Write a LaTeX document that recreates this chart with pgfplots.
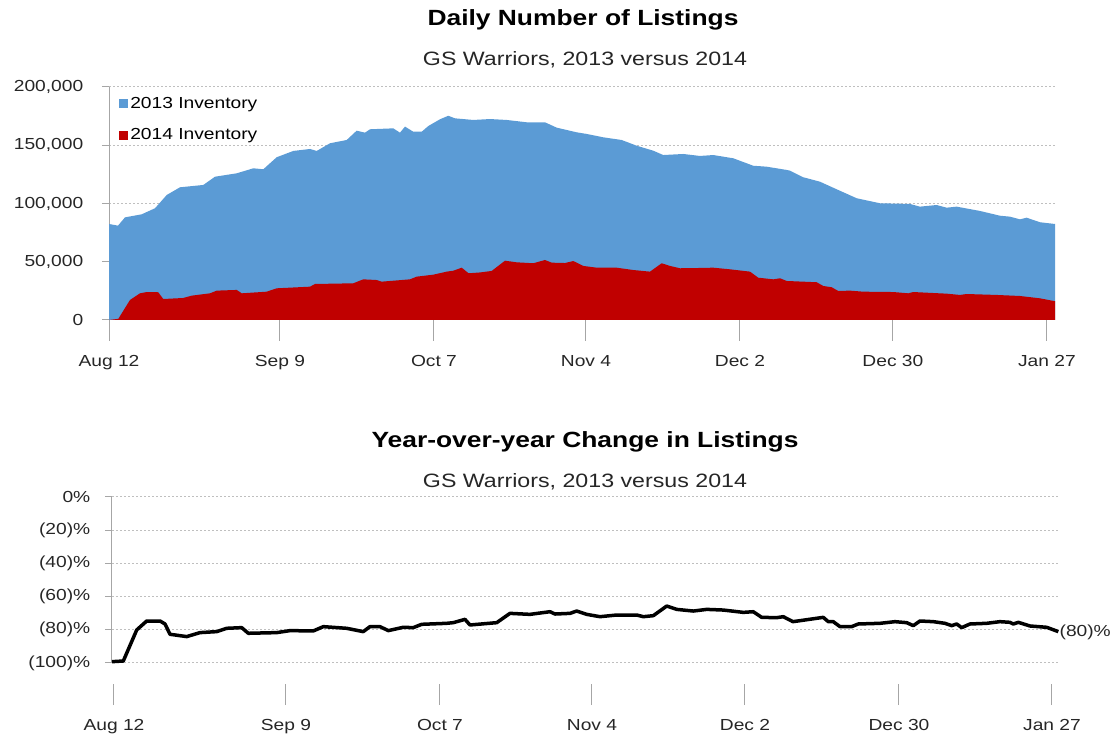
\documentclass[border=0pt]{standalone}
\usepackage{fontspec}
\setmainfont{Liberation Sans}[FakeStretch=1.2]
\usepackage{pgfplots}
\pgfplotsset{compat=1.18}
\newlength\px \setlength\px{0.75pt}
\definecolor{c13}{HTML}{5B9BD5}
\definecolor{c14}{HTML}{C00000}
\definecolor{gridc}{HTML}{BFBFBF}
\definecolor{axc}{HTML}{A6A6A6}
\definecolor{txt}{HTML}{262626}
\pgfplotsset{
  common/.style={
    scale only axis, width=946\px,
    xmin=0, xmax=172.57,
    axis lines*=left,
    x axis line style={draw=none},
    y axis line style={draw=axc, line width=1\px},
    tick align=outside,
    major tick length=21\px,
    minor tick length=7\px,
    xtick style={draw=axc, line width=1\px},
    ytick style={draw=none},
    minor y tick style={draw=axc, line width=1\px},
    ymajorgrids,
    grid style={gridc, line width=1\px, dash pattern=on 2\px off 2\px},
    tick label style={font=\fontsize{12}{14}\selectfont, text=txt},
    xticklabel style={yshift=-10\px},
    scaled y ticks=false,
    /pgf/number format/assume math mode=true,
    xticklabels={Aug 12,Sep 9,Oct 7,Nov 4,Dec 2,Dec 30,Jan 27},
  }
}
\begin{document}
\begin{tikzpicture}
\path[use as bounding box] (0,0) rectangle (1117\px,738\px);
\node[font=\fontsize{16.5}{18}\selectfont\bfseries] at (583\px,718\px) {Daily Number of Listings};
\node[font=\fontsize{14.5}{16}\selectfont, text=txt] at (585\px,678\px) {GS Warriors, 2013 versus 2014};
\begin{axis}[common,
  at={(109\px,418\px)}, anchor=south west, height=233\px,
  ymin=0, ymax=200000,
  xtick={0,31.19,59.28,87.01,115.1,143.0,171.1},
  ytick={0,50000,100000,150000,200000},
  minor ytick={0,50000,100000,150000,200000},
  yticklabels={0,{50,000},{100,000},{150,000},{200,000}},
  legend style={at={(0,1)}, anchor=north west, xshift=10\px, yshift=-8\px, draw=none, fill=none,
    font=\fontsize{12}{14}\selectfont, row sep=14\px, inner sep=0pt,
    nodes={inner sep=2\px}},
  legend cell align=left,
  legend image code/.code={\fill (0,-4.5\px) rectangle (9\px,4.5\px);},
]
\addplot[fill=c13, draw=none] coordinates {
(0,82400) (1.64,81000) (2.92,88100) (5.96,90700) (8.39,95900) (10.53,107300) (12.95,113900)
(17.2,115900) (19.34,123000) (23.29,125900) (26.32,130200) (28.15,129400) (30.59,139700)
(33.62,145100) (36.67,146800) (37.89,145100) (40.31,151700) (43.36,154500) (45.18,162500)
(46.7,160800) (47.61,163700) (51.86,164500) (53.08,160800) (54.0,166000) (55.51,161600)
(57.04,161600) (58.25,166500) (60.38,172300) (61.89,175300) (63.12,173100) (66.45,171700)
(69.5,172500) (72.55,171700) (76.19,169700) (79.53,169700) (81.67,165100) (85.31,161100)
(87.14,159700) (90.17,156800) (93.52,154500) (96.26,149600) (99.29,145300) (101.11,141600)
(104.76,142500) (107.81,140800) (110.23,141600) (113.88,138800) (117.53,132400) (119.97,131600)
(123.62,128800) (124.22,128200) (126.65,122500) (127.87,121000) (129.69,118700) (132.74,112200)
(136.39,104500) (140.64,100200) (146.11,99600) (147.93,97300) (150.98,98700) (152.8,96400)
(154.63,97300) (158.88,93600) (162.53,89500) (164.35,88700) (166.18,86400) (167.4,87800)
(169.83,83900) (172.57,82400)
} \closedcycle;
\addlegendentry{2013 Inventory}
\addplot[fill=c14, draw=none] coordinates {
(0,0) (1.7,1000) (3.83,17200) (5.65,22900) (6.88,24000) (8.99,23800) (9.9,18000) (13.55,18900)
(15.09,20900) (18.42,22900) (19.65,25200) (23.29,25800) (24.21,22900) (28.77,24300) (30.59,27200)
(36.67,28600) (37.58,30900) (44.56,31500) (46.39,34900) (48.83,34300) (49.74,32900) (54.91,34900)
(56.13,37200) (59.16,38900) (61.6,41500) (62.81,42300) (64.34,44900) (65.6,40100) (67.68,40800)
(69.81,42100) (72.24,50900) (74.37,49500) (77.4,48700) (79.53,51500) (80.76,49200) (83.18,48900)
(84.7,50600) (86.52,46400) (88.96,44900) (92.61,44900) (95.64,42900) (98.69,41500) (100.82,48700)
(102.34,46400) (104.16,44400) (107.21,44600) (110.23,44900) (113.28,43500) (116.93,41500)
(118.44,36300) (121.18,34900) (122.4,35800) (123.62,33500) (129.1,32400) (130.3,29200)
(131.83,28100) (133.04,24900) (135.17,25200) (137.6,24300) (143.07,24000) (145.8,22900)
(146.72,24000) (152.81,22600) (155.23,21500) (156.46,22300) (161.93,21500) (166.18,20600)
(169.83,18600) (172.57,16100)
} \closedcycle;
\addlegendentry{2014 Inventory}
\end{axis}

\node[font=\fontsize{16.5}{18}\selectfont\bfseries] at (585\px,296\px) {Year-over-year Change in Listings};
\node[font=\fontsize{14.5}{16}\selectfont, text=txt] at (585\px,256\px) {GS Warriors, 2013 versus 2014};
\begin{axis}[common,
  at={(112\px,75\px)}, anchor=south west, height=166\px,
  ymin=-100, ymax=0,
  axis x line shift=21\px,
  xtick={0.36,31.74,59.83,87.56,115.47,143.56,171.47},
  ytick={-100,-80,-60,-40,-20,0},
  minor ytick={-100,-80,-60,-40,-20,0},
  yticklabels={(100)\%,(80)\%,(60)\%,(40)\%,(20)\%,0\%},
  yticklabel style={xshift=4\px},
  clip=false,
]
\addplot[black, line width=3.5\px, line join=round] coordinates {
(0,-99.2) (2.06,-98.8) (4.51,-80.1) (6.33,-74.7) (8.76,-74.7) (9.67,-76.5) (10.58,-82.7)
(13.63,-84.1) (16.05,-81.7) (19.1,-81.1) (20.92,-79.1) (23.66,-78.7) (24.86,-82.1) (30.04,-81.7)
(32.47,-80.5) (36.72,-80.7) (38.54,-78.1) (42.81,-79.1) (45.84,-81.1) (47.06,-78.1) (48.89,-78.1)
(50.4,-80.5) (53.14,-78.5) (54.96,-78.7) (56.49,-76.7) (61.05,-76.1) (62.26,-75.7) (64.39,-73.7)
(65.3,-77.1) (70.18,-75.7) (72.6,-70.1) (76.25,-70.7) (79.9,-69.1) (80.81,-70.5) (83.55,-70.1)
(84.77,-68.7) (86.59,-70.7) (89.02,-72.1) (92.06,-71.1) (95.71,-71.1) (96.92,-72.1) (98.74,-71.5)
(101.19,-65.7) (103.01,-67.7) (106.04,-68.7) (108.48,-67.7) (111.51,-68.1) (115.16,-69.5)
(116.98,-69.1) (118.51,-72.5) (121.25,-72.7) (122.45,-72.1) (124.22,-75.1) (129.75,-72.5)
(130.66,-75.1) (131.57,-75.1) (132.8,-78.1) (134.93,-78.1) (136.14,-76.5) (140.09,-76.1)
(142.83,-75.1) (144.96,-75.7) (146.17,-77.5) (147.39,-74.7) (149.82,-75.1) (151.95,-76.1)
(153.18,-77.5) (154.09,-76.5) (155.0,-78.7) (156.51,-76.5) (159.56,-76.1) (161.99,-75.1)
(163.81,-75.5) (164.41,-76.5) (165.33,-75.5) (167.46,-77.7) (170.5,-78.5) (172.63,-81.1)
};
\node[anchor=west, inner sep=1\px, font=\fontsize{12}{14}\selectfont, text=txt] at (axis cs:172.63,-81.3) {(80)\%};
\end{axis}
\end{tikzpicture}
\end{document}
